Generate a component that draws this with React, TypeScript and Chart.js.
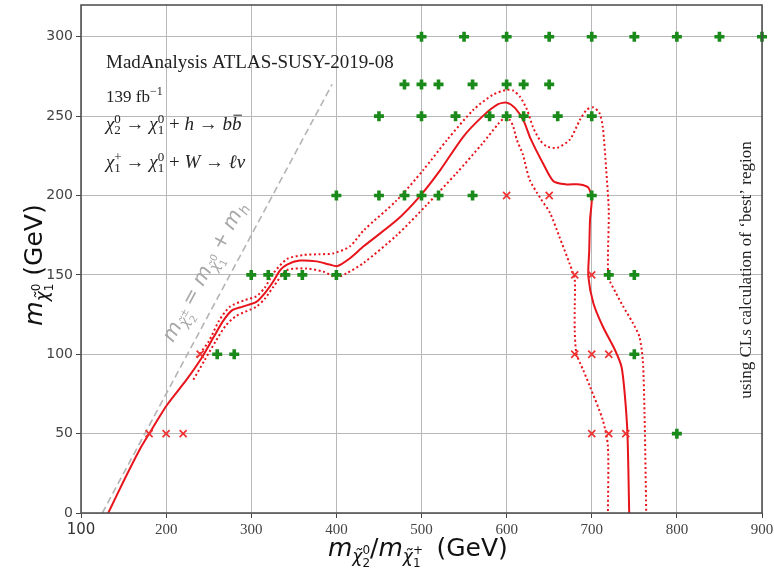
import React, { useEffect, useRef } from 'react';
import { Chart, registerables } from 'chart.js';

Chart.register(...registerables);

// ---- axis ranges & ticks ----
const X_MIN = 100;
const X_MAX = 900;
const Y_MIN = 0;
const Y_MAX = 320;
const xTickValues = [100, 200, 300, 400, 500, 600, 700, 800, 900];
const yTickValues = [0, 50, 100, 150, 200, 250, 300];

// ---- kinematic limit m(chi2) = m(chi1) + m(h) ----
const kinematicLimit: [number, number][] = [[125, 0], [395, 270]];

// ---- expected exclusion contour (solid) ----
const expectedContour: [number, number][] = [
  [132, 0], [150, 20], [169, 40], [179, 49], [201, 68], [224, 84], [242, 98], [256, 111],
  [267, 121], [277, 127.5], [290, 130], [306, 133], [316, 138.5], [326, 146], [334, 153],
  [342, 156.5], [357, 159], [377, 158.5], [392, 156.5], [401, 155.5], [416, 160.5], [432, 168],
  [471, 184.5], [498, 199.5], [522, 216], [549, 237], [572, 250], [590, 257.5], [600, 258.5],
  [610, 255], [620, 247], [628, 236], [643, 220], [655, 209], [670, 207], [686, 207],
  [696, 205], [700, 198], [698, 185], [697, 165], [696, 149], [702, 132], [713, 117.5],
  [727, 103], [735, 92], [739, 73.5], [742, 49], [744, 0],
];

// ---- +1 sigma contour (dotted, outer) ----
const plusSigmaContour: [number, number][] = [
  [236, 98], [250, 108], [262, 121], [275, 130], [292, 134], [306, 136.5], [316, 142],
  [326, 151], [342, 160], [361, 162.5], [380, 163], [396, 163.5], [416, 168], [432, 178],
  [471, 197], [502, 216], [530, 235], [561, 254], [584, 263.5], [600, 266.5], [608, 266],
  [616, 262], [624, 254], [631, 243], [639, 235], [647, 231], [659, 230], [674, 235],
  [686, 247.5], [694, 254], [702, 255.5], [709, 252], [713, 243], [717, 216], [720, 190],
  [719, 160], [720, 148], [728, 139], [737, 130], [748, 120], [756, 111], [760, 96],
  [762, 63], [764, 0],
];

// ---- -1 sigma contour (dotted, inner) ----
const minusSigmaContour: [number, number][] = [
  [232, 84], [245, 96], [258, 108], [270, 118], [282, 124], [306, 130], [316, 135],
  [326, 142.5], [342, 153], [365, 154], [385, 152], [400, 148.5], [412, 151], [432, 157.5],
  [471, 175], [506, 194], [541, 214], [572, 233], [590, 245], [598, 249], [604, 247.5],
  [608, 243], [612, 235], [619, 226], [627, 210], [640, 198], [651, 189], [662, 174],
  [674, 157], [680, 147], [680, 130], [680, 115], [682, 100.5], [690, 90], [698, 79.5],
  [713, 58.5], [719, 42], [719, 0],
];

// ---- grid points: allowed (green plus) ----
const allowedX = [
  500, 550, 600, 650, 700, 750, 800, 850, 900,
  480, 500, 520, 560, 600, 620, 650,
  450, 500, 540, 580, 600, 620, 660, 700,
  400, 450, 480, 500, 520, 560, 700,
  300, 320, 340, 360, 400, 720, 750,
  260, 280, 750,
  800,
];
const allowedY = [
  300, 300, 300, 300, 300, 300, 300, 300, 300,
  270, 270, 270, 270, 270, 270, 270,
  250, 250, 250, 250, 250, 250, 250, 250,
  200, 200, 200, 200, 200, 200, 200,
  150, 150, 150, 150, 150, 150, 150,
  100, 100, 100,
  50,
];

// ---- grid points: excluded (red x) ----
const excludedX = [600, 650, 680, 700, 240, 680, 700, 720, 180, 200, 220, 700, 720, 740];
const excludedY = [200, 200, 150, 150, 100, 100, 100, 100, 50, 50, 50, 50, 50, 50];

// ---- texts ----
const titleText = 'MadAnalysis ATLAS-SUSY-2019-08';
const lumiText = '139 fb';
const sideText = 'using CLs calculation of \u2018best\u2019 region';

const SERIF = '"Liberation Serif", "DejaVu Serif", serif';
const SANS = '"DejaVu Sans", sans-serif';

type Run = { t: string; s: number; i?: boolean; dy?: number; stack?: boolean; bar?: boolean };

function drawRuns(ctx: CanvasRenderingContext2D, runs: Run[], x: number, y: number, fam: string, draw = true) {
  let cx = x;
  for (const r of runs) {
    ctx.font = `${r.i ? 'italic ' : ''}${r.s}px ${fam}`;
    const w = ctx.measureText(r.t).width;
    if (draw) {
      ctx.fillText(r.t, cx, y + (r.dy || 0));
      if (r.bar) {
        ctx.save();
        ctx.strokeStyle = ctx.fillStyle as string;
        ctx.lineWidth = 1;
        ctx.beginPath();
        const by = y + (r.dy || 0) - r.s * 0.78;
        ctx.moveTo(cx + 1.5, by);
        ctx.lineTo(cx + w + 0.5, by);
        ctx.stroke();
        ctx.restore();
      }
    }
    if (!r.stack) cx += w;
  }
  return cx - x;
}

const pts = (arr: [number, number][]) => arr.map(([x, y]) => ({ x, y }));
const zipPts = (xs: number[], ys: number[]) => xs.map((x, k) => ({ x, y: ys[k] }));

const decorPlugin = {
  id: 'decor',
  afterDraw(chart: any) {
    const ctx: CanvasRenderingContext2D = chart.ctx;
    const a = chart.chartArea;
    const xs = chart.scales.x;
    const ys = chart.scales.y;
    ctx.save();
    // frame
    ctx.strokeStyle = '#4a4a4a';
    ctx.lineWidth = 1.5;
    ctx.strokeRect(a.left, a.top, a.right - a.left, a.bottom - a.top);

    ctx.textBaseline = 'alphabetic';
    ctx.textAlign = 'left';

    // in-plot texts
    ctx.fillStyle = '#222';
    const tx = a.left + 25;
    ctx.font = `19px ${SERIF}`;
    ctx.fillText(titleText, tx, 68);
    drawRuns(ctx, [{ t: lumiText, s: 17 }, { t: '\u22121', s: 12, dy: -7 }], tx, 102, SERIF);
    drawRuns(ctx, [
      { t: '\u03c7', s: 19, i: true }, { t: '0', s: 13, dy: -7, stack: true }, { t: '2', s: 13, dy: 4 },
      { t: ' \u2192 ', s: 19 },
      { t: '\u03c7', s: 19, i: true }, { t: '0', s: 13, dy: -7, stack: true }, { t: '1', s: 13, dy: 4 },
      { t: ' + ', s: 19 }, { t: 'h', s: 19, i: true }, { t: ' \u2192 ', s: 19 },
      { t: 'b', s: 19, i: true }, { t: 'b', s: 19, i: true, bar: true },
    ], tx, 130, SERIF);
    drawRuns(ctx, [
      { t: '\u03c7', s: 19, i: true }, { t: '+', s: 13, dy: -7, stack: true }, { t: '1', s: 13, dy: 4 },
      { t: ' \u2192 ', s: 19 },
      { t: '\u03c7', s: 19, i: true }, { t: '0', s: 13, dy: -7, stack: true }, { t: '1', s: 13, dy: 4 },
      { t: ' + ', s: 19 }, { t: 'W', s: 19, i: true }, { t: ' \u2192 ', s: 19 },
      { t: '\u2113', s: 19, i: true }, { t: '\u03bd', s: 19, i: true },
    ], tx, 168, SERIF);

    // side text
    ctx.font = `17px ${SERIF}`;
    const sw = ctx.measureText(sideText).width;
    ctx.save();
    ctx.translate(a.right - 11, 270 + sw / 2);
    ctx.rotate(-Math.PI / 2);
    ctx.fillText(sideText, 0, 0);
    ctx.restore();

    // kinematic line label
    const p0x = xs.getPixelForValue(kinematicLimit[0][0]);
    const p0y = ys.getPixelForValue(kinematicLimit[0][1]);
    const p1x = xs.getPixelForValue(kinematicLimit[1][0]);
    const p1y = ys.getPixelForValue(kinematicLimit[1][1]);
    const ang = Math.atan2(p1y - p0y, p1x - p0x);
    ctx.fillStyle = '#a8a8a8';
    ctx.save();
    ctx.translate(173, 343);
    ctx.rotate(ang);
    drawRuns(ctx, [
      { t: 'm', s: 20, i: true }, { t: '\u03c7\u0303', s: 14, i: true, dy: 5 },
      { t: '\u00b1', s: 10, dy: -1, stack: true }, { t: '2', s: 10, dy: 10 },
      { t: ' = ', s: 20 },
      { t: 'm', s: 20, i: true }, { t: '\u03c7\u0303', s: 14, i: true, dy: 5 },
      { t: '0', s: 10, dy: -1, stack: true }, { t: '1', s: 10, dy: 10 },
      { t: ' + ', s: 20 },
      { t: 'm', s: 20, i: true }, { t: 'h', s: 14, i: true, dy: 5 },
    ], 0, 0, SANS);
    ctx.restore();

    // axis titles
    ctx.fillStyle = '#111';
    const xRuns: Run[] = [
      { t: 'm', s: 25, i: true }, { t: '\u03c7\u0303', s: 17, i: true, dy: 6 },
      { t: '0', s: 12, dy: -2, stack: true }, { t: '2', s: 12, dy: 11 },
      { t: '/', s: 25 },
      { t: 'm', s: 25, i: true }, { t: '\u03c7\u0303', s: 17, i: true, dy: 6 },
      { t: '+', s: 12, dy: -2, stack: true }, { t: '1', s: 12, dy: 11 },
      { t: '  (GeV)', s: 25 },
    ];
    drawRuns(ctx, xRuns, 328, 556, SANS);

    const yRuns: Run[] = [
      { t: 'm', s: 25, i: true }, { t: '\u03c7\u0303', s: 17, i: true, dy: 6 },
      { t: '0', s: 12, dy: -2, stack: true }, { t: '1', s: 12, dy: 11 },
      { t: ' (GeV)', s: 25 },
    ];
    const yw = drawRuns(ctx, yRuns, 0, 0, SANS, false);
    ctx.save();
    ctx.translate(42, 265 + yw / 2);
    ctx.rotate(-Math.PI / 2);
    drawRuns(ctx, yRuns, 0, 0, SANS);
    ctx.restore();

    ctx.restore();
  },
};

export default function App() {
  const canvasRef = useRef<HTMLCanvasElement | null>(null);

  useEffect(() => {
    const canvas = canvasRef.current;
    if (!canvas) return;
    const red = '#e8141c';
    const chart = new Chart(canvas, {
      type: 'scatter',
      data: {
        datasets: [
          {
            label: 'allowed',
            data: zipPts(allowedX, allowedY),
            pointStyle: 'cross',
            pointRadius: 5,
            pointBorderWidth: 3.6,
            borderColor: '#1a8a1a',
            backgroundColor: '#1a8a1a',
            showLine: false,
            clip: false,
            order: 0,
          } as any,
          {
            label: 'excluded',
            data: zipPts(excludedX, excludedY),
            pointStyle: 'crossRot',
            pointRadius: 5,
            pointBorderWidth: 1.7,
            borderColor: '#f03030',
            backgroundColor: '#f03030',
            showLine: false,
            clip: false,
            order: 1,
          } as any,
          {
            label: 'expected',
            data: pts(expectedContour),
            showLine: true,
            borderColor: red,
            borderWidth: 2,
            pointRadius: 0,
            tension: 0.25,
            order: 2,
          },
          {
            label: '+1sigma',
            data: pts(plusSigmaContour),
            showLine: true,
            borderColor: red,
            borderWidth: 2,
            borderDash: [2, 2.6],
            pointRadius: 0,
            tension: 0.25,
            order: 3,
          },
          {
            label: '-1sigma',
            data: pts(minusSigmaContour),
            showLine: true,
            borderColor: red,
            borderWidth: 2,
            borderDash: [2, 2.6],
            pointRadius: 0,
            tension: 0.25,
            order: 4,
          },
          {
            label: 'kinematic',
            data: pts(kinematicLimit),
            showLine: true,
            borderColor: '#b4b4b4',
            borderWidth: 1.6,
            borderDash: [7, 4],
            pointRadius: 0,
            order: 5,
          },
        ],
      },
      options: {
        responsive: false,
        animation: false,
        devicePixelRatio: 1,
        layout: { autoPadding: false, padding: { top: 5, right: 12, left: 0, bottom: 0 } },
        plugins: { legend: { display: false }, tooltip: { enabled: false } },
        scales: {
          x: {
            type: 'linear',
            min: X_MIN,
            max: X_MAX,
            afterBuildTicks: (s: any) => { s.ticks = xTickValues.map((v) => ({ value: v })); },
            afterFit: (s: any) => { s.height = 70; s.paddingLeft = 0; s.paddingRight = 0; },
            border: { display: false },
            grid: { color: '#b8b8b8', lineWidth: 1, tickLength: 5, tickColor: '#444', tickWidth: 1 },
            ticks: {
              autoSkip: false,
              maxRotation: 0,
              padding: 3,
              color: (c: any) => (c.tick && c.tick.value === 100 ? '#333' : '#444'),
              font: (c: any) => (c.tick && c.tick.value === 100
                ? { family: SANS, size: 15 }
                : { family: SERIF, size: 15 }),
            },
          },
          y: {
            type: 'linear',
            min: Y_MIN,
            max: Y_MAX,
            afterBuildTicks: (s: any) => { s.ticks = yTickValues.map((v) => ({ value: v })); },
            afterFit: (s: any) => { s.width = 81; s.paddingTop = 0; s.paddingBottom = 0; },
            border: { display: false },
            grid: { color: '#b8b8b8', lineWidth: 1, tickLength: 5, tickColor: '#444', tickWidth: 1 },
            ticks: {
              autoSkip: false,
              padding: 3,
              color: '#444',
              font: { family: SANS, size: 14 },
            },
          },
        },
      },
      plugins: [decorPlugin],
    } as any);
    return () => chart.destroy();
  }, []);

  return (
    <div style={{ position: 'fixed', left: 0, top: 0, width: 774, height: 583, background: '#fff' }}>
      <canvas ref={canvasRef} width={774} height={583} style={{ display: 'block' }} />
    </div>
  );
}
